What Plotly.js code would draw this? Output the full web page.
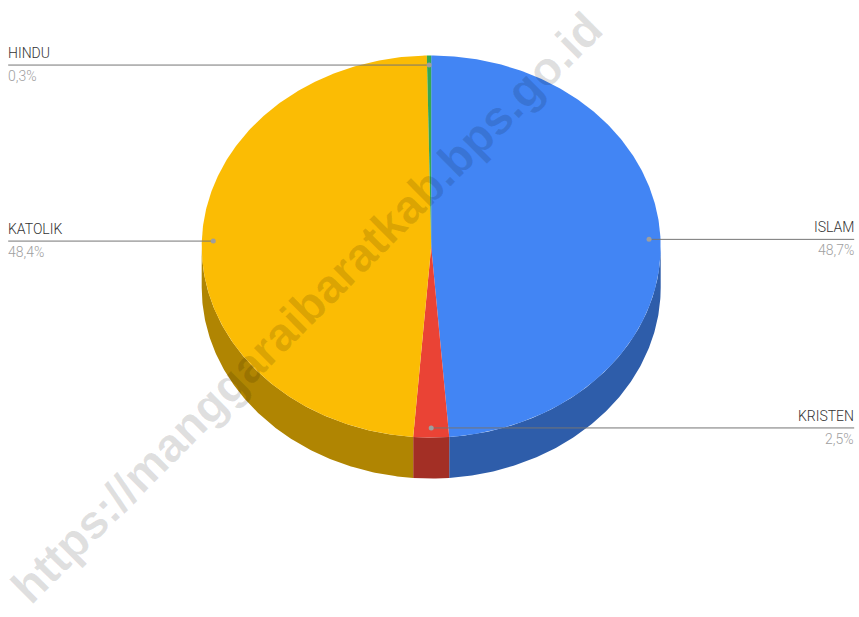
<!DOCTYPE html>
<html>
<head>
<meta charset="utf-8">
<script src="https://cdn.plot.ly/plotly-3.0.1.min.js"></script>
<style>html,body{margin:0;padding:0;background:#fff}#chart{width:859px;height:617px}</style>
</head>
<body>
<div id="chart"></div>
<script>
// Data
const categories = ["ISLAM", "KRISTEN", "KATOLIK", "HINDU"];
const shares = [48.7, 2.5, 48.4, 0.3];
const shareLabels = ["48,7%", "2,5%", "48,4%", "0,3%"];
const topColors = ["#4285f4", "#ea4335", "#fbbc04", "#34a853"];
const wallColors = ["#2e5daa", "#a32f25", "#b08502", "#247539"];
const labelSides = [1, 1, -1, -1];
const watermark = "https://manggaraibaratkab.bps.go.id";

// Pie geometry: the unit circle is flattened by the axis ranges
const W = 859, H = 617, CX = 431.2, CY = 246.5, RX = 229.5, RY = 191, DEPTH = 41 / 191;
const LABEL_EDGE = 423 / 229.5, ANCHOR_R = 0.95;
const total = shares.reduce((a, b) => a + b, 0);
const turn = 2 * Math.PI;

function arc(a0, a1, dy) {
  const n = Math.max(2, Math.ceil((a1 - a0) / 0.01));
  const xs = [], ys = [];
  for (let i = 0; i <= n; i++) {
    const a = a0 + (a1 - a0) * i / n;
    xs.push(Math.sin(a));
    ys.push(Math.cos(a) - dy);
  }
  return [xs, ys];
}
function poly(xs, ys, color) {
  return {type: "scatter", mode: "lines", x: xs, y: ys, fill: "toself", fillcolor: color,
          line: {width: 0, color: color}, hoverinfo: "skip", showlegend: false};
}

const walls = [], tops = [], leaders = [], annotations = [];
let start = 0;
categories.forEach((name, i) => {
  const end = start + shares[i] / total * turn;
  const mid = (start + end) / 2;
  // visible part of the side wall: lower half of the ellipse
  const w0 = Math.max(start, Math.PI / 2), w1 = Math.min(end, 3 * Math.PI / 2);
  if (w1 > w0) {
    const [tx, ty] = arc(w0, w1, 0), [bx, by] = arc(w0, w1, DEPTH);
    walls.push(poly(tx.concat(bx.reverse()), ty.concat(by.reverse()), wallColors[i]));
  }
  const [ax, ay] = arc(start, end, 0);
  tops.push(poly([0].concat(ax, [0]), [0].concat(ay, [0]), topColors[i]));

  const px = ANCHOR_R * Math.sin(mid), py = ANCHOR_R * Math.cos(mid);
  const edge = labelSides[i] * LABEL_EDGE;
  leaders.push({type: "scatter", mode: "lines", x: [px, edge], y: [py, py],
                line: {color: "#757575", width: 1}, hoverinfo: "skip", showlegend: false});
  leaders.push({type: "scatter", mode: "markers", x: [px], y: [py],
                marker: {color: "#9e9e9e", size: 5}, hoverinfo: "skip", showlegend: false});
  const anchor = labelSides[i] > 0 ? "right" : "left";
  annotations.push({x: edge, y: py, xref: "x", yref: "y", text: name, showarrow: false, xanchor: anchor,
                    yanchor: "middle", yshift: 12, xshift: 2 * labelSides[i], font: {family: "Roboto, Arial", size: 14, weight: 300, color: "#333333"}});
  annotations.push({x: edge, y: py, xref: "x", yref: "y", text: shareLabels[i], showarrow: false, xanchor: anchor,
                    yanchor: "middle", yshift: -11, xshift: 2 * labelSides[i], font: {family: "Roboto, Arial", size: 14, weight: 300, color: "#a0a0a0"}});
  start = end;
});

annotations.push({x: 306 / W, y: 1 - 307 / H, xref: "paper", yref: "paper", text: "<b>" + watermark + "</b>", showarrow: false,
                  textangle: -45, xanchor: "center", yanchor: "middle",
                  font: {family: "Liberation Sans, Arial", size: 47, color: "rgba(0,0,0,0.12)"}});

Plotly.newPlot("chart", walls.concat(tops, leaders), {
  width: W, height: H, margin: {l: 0, r: 0, t: 0, b: 0},
  paper_bgcolor: "#ffffff", plot_bgcolor: "#ffffff", showlegend: false, hovermode: false,
  xaxis: {visible: false, range: [-CX / RX, (W - CX) / RX], fixedrange: true},
  yaxis: {visible: false, range: [(CY - H) / RY, CY / RY], fixedrange: true},
  annotations: annotations
}, {displayModeBar: false, staticPlot: true});
</script>
</body>
</html>
